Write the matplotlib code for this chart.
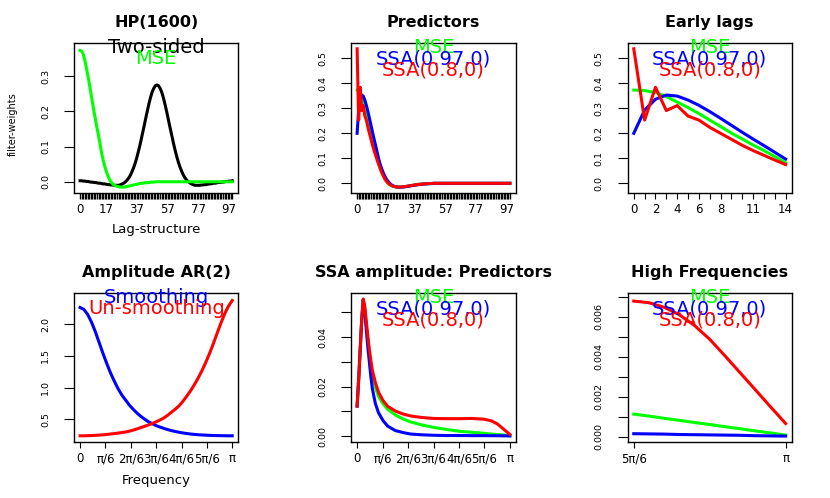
import numpy as np
import matplotlib
matplotlib.use("Agg")
import matplotlib.pyplot as plt

plt.rcParams['font.family'] = ['DejaVu Sans']

# ---------------- data ----------------
lags = list(range(100))
lag_labels = [0, 17, 37, 57, 77, 97]
early_labels = [0, 2, 4, 6, 8, 11, 14]

hp_two_sided = [
    0.003, 0.003, 0.002, 0.002, 0.001, 0.001, 0.000, -0.001, -0.001, -0.002,
    -0.002, -0.003, -0.004, -0.004, -0.005, -0.006, -0.006, -0.007, -0.008, -0.008,
    -0.009, -0.009, -0.010, -0.010, -0.010, -0.010, -0.009, -0.007, -0.005, -0.002,
    0.002, 0.007, 0.013, 0.021, 0.031, 0.042, 0.055, 0.070, 0.087, 0.105,
    0.125, 0.145, 0.165, 0.186, 0.206, 0.225, 0.242, 0.256, 0.266, 0.273,
    0.275, 0.273, 0.266, 0.256, 0.242, 0.225, 0.206, 0.186, 0.165, 0.145,
    0.125, 0.105, 0.087, 0.070, 0.055, 0.042, 0.031, 0.021, 0.013, 0.007,
    0.002, -0.002, -0.005, -0.007, -0.009, -0.010, -0.010, -0.010, -0.010, -0.009,
    -0.009, -0.008, -0.008, -0.007, -0.006, -0.006, -0.005, -0.004, -0.004, -0.003,
    -0.002, -0.002, -0.001, -0.001, 0.000, 0.001, 0.001, 0.002, 0.002, 0.003]

mse = [
    0.373, 0.371, 0.363, 0.347, 0.325, 0.303, 0.279, 0.253, 0.227, 0.201,
    0.177, 0.153, 0.131, 0.107, 0.082, 0.062, 0.045, 0.031, 0.018, 0.008,
    0.000, -0.005, -0.009, -0.011, -0.013, -0.014, -0.015, -0.015, -0.015, -0.015,
    -0.014, -0.013, -0.012, -0.011, -0.010, -0.009, -0.008, -0.007, -0.006, -0.005,
    -0.004, -0.004, -0.003, -0.003, -0.002, -0.002, -0.001, -0.001, -0.001, 0.000,
    0.0, 0.0, 0.0, 0.0, 0.0, 0.0, 0.0, 0.0, 0.0, 0.0,
    0.0, 0.0, 0.0, 0.0, 0.0, 0.0, 0.0, 0.0, 0.0, 0.0,
    0.0, 0.0, 0.0, 0.0, 0.0, 0.0, 0.0, 0.0, 0.0, 0.0,
    0.0, 0.0, 0.0, 0.0, 0.0, 0.0, 0.0, 0.0, 0.0, 0.0,
    0.0, 0.0, 0.0, 0.0, 0.0, 0.0, 0.0, 0.0, 0.0, 0.0]

ssa_097 = [
    0.200, 0.293, 0.336, 0.353, 0.349, 0.333, 0.312, 0.287, 0.260, 0.232,
    0.204, 0.177, 0.151, 0.124, 0.097, 0.075, 0.057, 0.041, 0.028, 0.017,
    0.008, 0.001, -0.005, -0.009, -0.012, -0.014, -0.015, -0.0155, -0.0155, -0.015,
    -0.015, -0.014, -0.013, -0.012, -0.011, -0.010, -0.009, -0.008, -0.007, -0.006,
    -0.005, -0.004, -0.004, -0.003, -0.003, -0.002, -0.002, -0.001, -0.001, -0.001,
    0.0, 0.0, 0.0, 0.0, 0.0, 0.0, 0.0, 0.0, 0.0, 0.0,
    0.0, 0.0, 0.0, 0.0, 0.0, 0.0, 0.0, 0.0, 0.0, 0.0,
    0.0, 0.0, 0.0, 0.0, 0.0, 0.0, 0.0, 0.0, 0.0, 0.0,
    0.0, 0.0, 0.0, 0.0, 0.0, 0.0, 0.0, 0.0, 0.0, 0.0,
    0.0, 0.0, 0.0, 0.0, 0.0, 0.0, 0.0, 0.0, 0.0, 0.0]

ssa_08 = [
    0.538, 0.253, 0.384, 0.291, 0.311, 0.269, 0.253, 0.224, 0.200, 0.176,
    0.152, 0.131, 0.112, 0.093, 0.075, 0.058, 0.042, 0.029, 0.017, 0.008,
    0.001, -0.004, -0.008, -0.011, -0.013, -0.014, -0.015, -0.015, -0.015, -0.014,
    -0.014, -0.013, -0.012, -0.011, -0.010, -0.009, -0.008, -0.007, -0.006, -0.005,
    -0.004, -0.004, -0.003, -0.003, -0.002, -0.002, -0.001, -0.001, -0.001, 0.000,
    0.0, 0.0, 0.0, 0.0, 0.0, 0.0, 0.0, 0.0, 0.0, 0.0,
    0.0, 0.0, 0.0, 0.0, 0.0, 0.0, 0.0, 0.0, 0.0, 0.0,
    0.0, 0.0, 0.0, 0.0, 0.0, 0.0, 0.0, 0.0, 0.0, 0.0,
    0.0, 0.0, 0.0, 0.0, 0.0, 0.0, 0.0, 0.0, 0.0, 0.0,
    0.0, 0.0, 0.0, 0.0, 0.0, 0.0, 0.0, 0.0, 0.0, 0.0]

# Amplitude AR(2): frequencies in units of pi
freq_ar = [0.000, 0.025, 0.050, 0.075, 0.100, 0.125, 0.150, 0.175, 0.200, 0.225,
           0.250, 0.275, 0.300, 0.325, 0.350, 0.375, 0.400, 0.425, 0.450, 0.475,
           0.500, 0.525, 0.550, 0.575, 0.600, 0.625, 0.650, 0.675, 0.700, 0.725,
           0.750, 0.775, 0.800, 0.825, 0.850, 0.875, 0.900, 0.925, 0.950, 0.975, 1.000]
amp_smoothing = [2.26, 2.23, 2.15, 2.03, 1.88, 1.71, 1.54, 1.38, 1.23, 1.10,
                 0.98, 0.88, 0.80, 0.72, 0.655, 0.595, 0.545, 0.50, 0.46, 0.43,
                 0.40, 0.378, 0.357, 0.338, 0.322, 0.308, 0.296, 0.285, 0.276, 0.268,
                 0.262, 0.257, 0.253, 0.250, 0.247, 0.245, 0.243, 0.242, 0.241, 0.240, 0.240]
amp_unsmoothing = [0.240, 0.240, 0.242, 0.244, 0.247, 0.251, 0.255, 0.261, 0.268, 0.275,
                   0.283, 0.291, 0.300, 0.314, 0.330, 0.349, 0.370, 0.390, 0.410, 0.434,
                   0.460, 0.488, 0.520, 0.562, 0.610, 0.658, 0.710, 0.780, 0.860, 0.945,
                   1.040, 1.145, 1.260, 1.390, 1.530, 1.685, 1.850, 2.010, 2.160, 2.280, 2.370]

# SSA amplitude of predictors: frequencies in units of pi
freq_pred = [0.00, 0.01, 0.02, 0.03, 0.04, 0.05, 0.06, 0.07, 0.08, 0.09, 0.10,
             0.12, 0.14, 0.17, 0.20, 0.25, 0.30, 0.35, 0.42, 0.50, 0.58, 0.67,
             0.75, 0.83, 0.88, 0.92, 0.96, 1.00]
amp_mse = [0.0121, 0.0226, 0.0347, 0.0468, 0.0553, 0.0515, 0.0450, 0.0390, 0.0333, 0.0285, 0.0245,
           0.0195, 0.0160, 0.0130, 0.0108, 0.0085, 0.0069, 0.0057, 0.0045, 0.0035, 0.0027, 0.0019,
           0.0015, 0.0011, 0.0008, 0.0006, 0.0004, 0.0001]
amp_ssa097 = [0.0121, 0.0226, 0.0347, 0.0468, 0.0550, 0.0505, 0.0430, 0.0360, 0.0300, 0.0240, 0.0190,
              0.0130, 0.0094, 0.0062, 0.0040, 0.0022, 0.0014, 0.0008, 0.0005, 0.0003, 0.0002, 0.0002,
              0.00015, 0.00015, 0.00012, 0.0001, 0.00006, 0.00003]
amp_ssa08 = [0.0121, 0.0226, 0.0347, 0.0468, 0.0553, 0.0525, 0.0465, 0.0405, 0.0350, 0.0305, 0.0265,
             0.0215, 0.0177, 0.0143, 0.0120, 0.0101, 0.0089, 0.0081, 0.0075, 0.0071, 0.0070, 0.0070,
             0.0071, 0.0068, 0.0061, 0.0048, 0.0027, 0.00066]

# High frequencies: 5pi/6 .. pi (units of pi)
freq_high = [0.8333, 0.8500, 0.8667, 0.8833, 0.9000, 0.9167, 0.9333, 0.9500, 0.9667, 0.9833, 1.0000]
high_mse = [0.00113, 0.00103, 0.00092, 0.00082, 0.00071, 0.00061, 0.00050, 0.00040, 0.00029, 0.00019, 0.00008]
high_ssa097 = [0.00015, 0.00014, 0.00013, 0.00011, 0.00010, 0.00009, 0.00008, 0.00007, 0.00005, 0.00004, 0.00003]
high_ssa08 = [0.00678, 0.00670, 0.00647, 0.00610, 0.00556, 0.00487, 0.00405, 0.00320, 0.00235, 0.00150, 0.00066]

freq_tick_labels = ['0', 'π/6', '2π/6', '3π/6', '4π/6', '5π/6', 'π']

# ---------------- layout ----------------
W, H = 830, 498
PT = 0.72  # points per pixel at dpi 100

fig = plt.figure(figsize=(8.3, 4.98), dpi=100)


def make_ax(l, t, r, b):
    return fig.add_axes([l / W, 1 - b / H, (r - l) / W, (b - t) / H])


LW = 2.2
TITLE_FS = 11.5
ANN_FS = 14
XT_FS = 8.5
YT_FS = 6.8
LAB_FS = 9.5


def style(ax, title, xlim, ylim, xticks, xlabels, yticks, ylabels, xtick_len=4.0, xtick_w=0.8):
    ax.set_xlim(*xlim)
    ax.set_ylim(*ylim)
    ax.set_xticks(xticks)
    ax.set_xticklabels(xlabels)
    ax.set_yticks(yticks)
    ax.set_yticklabels(ylabels)
    for s in ax.spines.values():
        s.set_linewidth(1.0)
    ax.tick_params(axis='x', length=xtick_len, width=xtick_w, pad=3.5, labelsize=XT_FS)
    ax.tick_params(axis='y', length=7.2, width=0.8, pad=10, labelsize=YT_FS)
    for lab in ax.get_yticklabels():
        lab.set_rotation(90)
        lab.set_va('center')
        lab.set_ha('right')
    ax.set_title(title, fontsize=TITLE_FS, fontweight='bold', pad=11)


def annotate_lines(ax, items):
    offsets_px = [10.6, 21.6, 32.6]
    for (txt, col), off in zip(items, offsets_px):
        ax.annotate(txt, xy=(0.5, 1.0), xycoords='axes fraction',
                    xytext=(0, -off * PT), textcoords='offset points',
                    ha='center', va='baseline', fontsize=ANN_FS, color=col)


lag_xlim = (-0.04 * 99, 99 + 0.04 * 99)
lag_xlabels = [str(l) if l in lag_labels else '' for l in lags]
filt_ylim = (-0.0376, 0.5624)
filt_yticks = [0.0, 0.1, 0.2, 0.3, 0.4, 0.5]
filt_ylabels = ['0.0', '0.1', '0.2', '0.3', '0.4', '0.5']

# Panel 1: HP(1600)
ax1 = make_ax(74, 42.7, 238.3, 192.7)
ax1.plot(lags, hp_two_sided, color='black', lw=LW)
ax1.plot(lags, mse, color='#00ff00', lw=LW)
style(ax1, 'HP(1600)', lag_xlim, (-0.031, 0.395), lags, lag_xlabels,
      [0.0, 0.1, 0.2, 0.3], ['0.0', '0.1', '0.2', '0.3'], xtick_w=1.0)
annotate_lines(ax1, [('Two-sided', 'black'), ('MSE', '#00ff00')])
ax1.annotate('Lag-structure', xy=(0.5, 0), xycoords='axes fraction',
             xytext=(0, -(230 - 192.7) * PT), textcoords='offset points',
             ha='center', va='center', fontsize=LAB_FS)
ax1.annotate('filter-weights', xy=(0, 0.5), xycoords='axes fraction',
             xytext=(-61 * PT, -6 * PT), textcoords='offset points',
             ha='center', va='center', rotation=90, fontsize=7)

pred_items = [('MSE', '#00ff00'), ('SSA(0.97,0)', '#0000ff'), ('SSA(0.8,0)', '#ff0000')]

# Panel 2: Predictors
ax2 = make_ax(351, 42.7, 516, 192.7)
ax2.plot(lags, mse, color='#00ff00', lw=LW)
ax2.plot(lags, ssa_097, color='#0000ff', lw=LW)
ax2.plot(lags, ssa_08, color='#ff0000', lw=LW)
style(ax2, 'Predictors', lag_xlim, filt_ylim, lags, lag_xlabels, filt_yticks, filt_ylabels,
      xtick_w=1.0)
annotate_lines(ax2, pred_items)

# Panel 3: Early lags
n_early = 15
early = lags[:n_early]
ax3 = make_ax(627.7, 42.7, 791.7, 192.7)
ax3.plot(early, mse[:n_early], color='#00ff00', lw=LW)
ax3.plot(early, ssa_097[:n_early], color='#0000ff', lw=LW)
ax3.plot(early, ssa_08[:n_early], color='#ff0000', lw=LW)
style(ax3, 'Early lags', (-0.56, 14.56), filt_ylim, early,
      [str(l) if l in early_labels else '' for l in early], filt_yticks, filt_ylabels)
annotate_lines(ax3, pred_items)

freq_ticks = [k * np.pi / 6 for k in range(7)]
freq_xlim = (-0.04 * np.pi, 1.04 * np.pi)

# Panel 4: Amplitude AR(2)
ax4 = make_ax(74, 292.7, 238.3, 441.7)
fa = np.array(freq_ar) * np.pi
ax4.plot(fa, amp_smoothing, color='#0000ff', lw=LW)
ax4.plot(fa, amp_unsmoothing, color='#ff0000', lw=LW)
style(ax4, 'Amplitude AR(2)', freq_xlim, (0.147, 2.493), freq_ticks, freq_tick_labels,
      [0.5, 1.0, 1.5, 2.0], ['0.5', '1.0', '1.5', '2.0'])
annotate_lines(ax4, [('Smoothing', '#0000ff'), ('Un-smoothing', '#ff0000')])
ax4.annotate('Frequency', xy=(0.5, 0), xycoords='axes fraction',
             xytext=(0, -(480 - 441.7) * PT), textcoords='offset points',
             ha='center', va='center', fontsize=LAB_FS)

# Panel 5: SSA amplitude: Predictors
ax5 = make_ax(351, 292.7, 516, 441.7)
fp = np.array(freq_pred) * np.pi
ax5.plot(fp, amp_mse, color='#00ff00', lw=LW)
ax5.plot(fp, amp_ssa097, color='#0000ff', lw=LW)
ax5.plot(fp, amp_ssa08, color='#ff0000', lw=LW)
style(ax5, 'SSA amplitude: Predictors', freq_xlim, (-0.0023, 0.0579), freq_ticks, freq_tick_labels,
      [0.0, 0.01, 0.02, 0.03, 0.04, 0.05], ['0.00', '', '0.02', '', '0.04', ''])
annotate_lines(ax5, pred_items)

# Panel 6: High Frequencies
ax6 = make_ax(627.7, 292.7, 791.7, 441.7)
fh = np.array(freq_high) * np.pi
ax6.plot(fh, high_mse, color='#00ff00', lw=LW)
ax6.plot(fh, high_ssa097, color='#0000ff', lw=LW)
ax6.plot(fh, high_ssa08, color='#ff0000', lw=LW)
span = np.pi / 6
style(ax6, 'High Frequencies', (5 * np.pi / 6 - 0.04 * span, np.pi + 0.04 * span),
      (-0.00025, 0.0072), [5 * np.pi / 6, np.pi], ['5π/6', 'π'],
      [0.000, 0.001, 0.002, 0.003, 0.004, 0.005, 0.006, 0.007],
      ['0.000', '', '0.002', '', '0.004', '', '0.006', ''])
annotate_lines(ax6, pred_items)

fig.savefig('out.png', dpi=100)
